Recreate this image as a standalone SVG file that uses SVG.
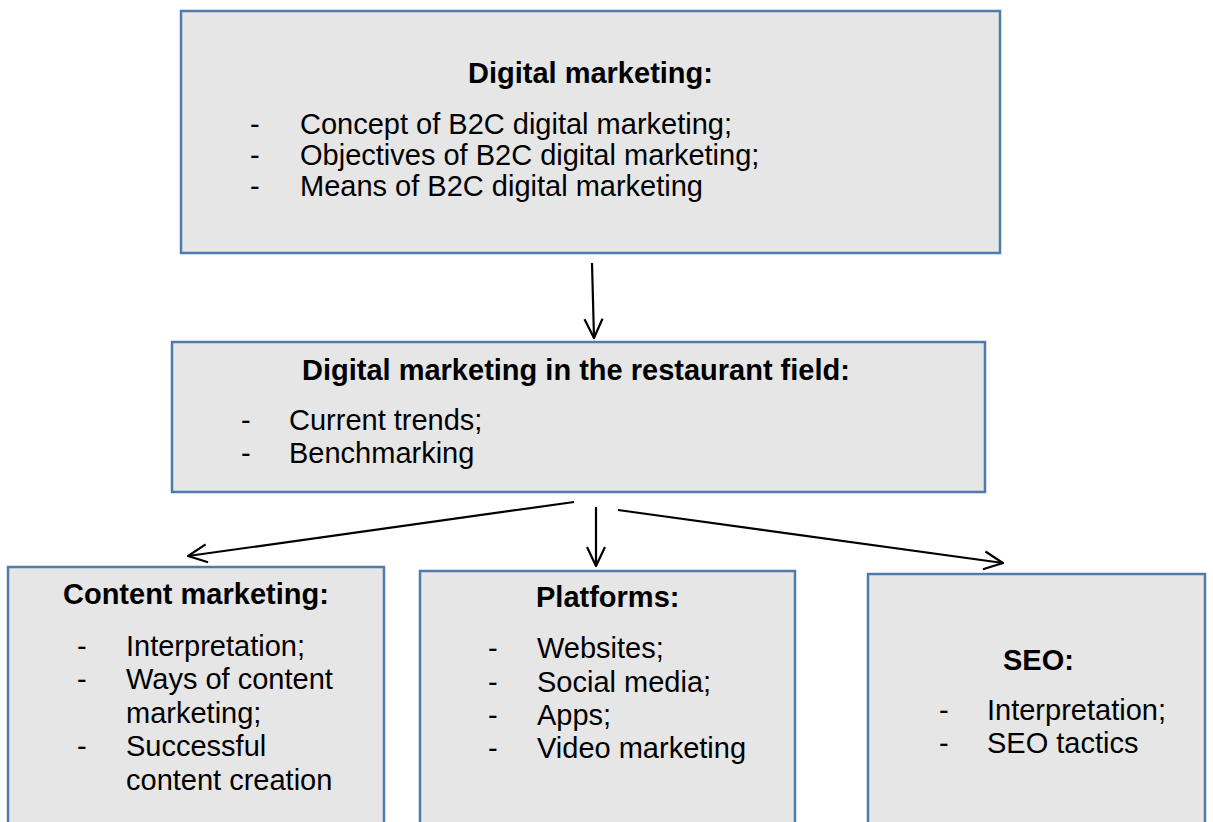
<svg xmlns="http://www.w3.org/2000/svg" width="1213" height="822" viewBox="0 0 1213 822">
<style>
.box{fill:#e6e6e6;stroke:#4f7bac;stroke-width:2.5}
.t{font-family:"Liberation Sans",Arial,sans-serif;font-size:29px;fill:#000}
.b{font-weight:bold}
.c{stroke:#000;stroke-width:2.2;fill:none}
</style>
<defs>
<marker id="ah" viewBox="0 0 22 22" refX="21" refY="11" markerWidth="22" markerHeight="22" markerUnits="userSpaceOnUse" orient="auto">
<path d="M2,2 L21,11 L2,20" fill="none" stroke="#000" stroke-width="2.2"/>
</marker>
</defs>
<rect width="1213" height="822" fill="#fff"/>
<g id="n-digital">
<rect class="box" x="181" y="11" width="819" height="242"/>
<text class="t b" x="468" y="83">Digital marketing:</text>
<text class="t" x="250" y="134">-</text><text class="t" x="300" y="134">Concept of B2C digital marketing;</text>
<text class="t" x="250" y="165">-</text><text class="t" x="300" y="165">Objectives of B2C digital marketing;</text>
<text class="t" x="250" y="196">-</text><text class="t" x="300" y="196">Means of B2C digital marketing</text>
</g>
<g id="n-restaurant">
<rect class="box" x="172" y="342" width="813" height="150"/>
<text class="t b" x="302" y="380">Digital marketing in the restaurant field:</text>
<text class="t" x="241" y="430">-</text><text class="t" x="289" y="430">Current trends;</text>
<text class="t" x="241" y="463">-</text><text class="t" x="289" y="463">Benchmarking</text>
</g>
<g id="n-content">
<rect class="box" x="8" y="567" width="376" height="280"/>
<text class="t b" x="63" y="604">Content marketing:</text>
<text class="t" x="77" y="656">-</text><text class="t" x="126" y="656">Interpretation;</text>
<text class="t" x="77" y="689">-</text><text class="t" x="126" y="689">Ways of content</text>
<text class="t" x="126" y="723">marketing;</text>
<text class="t" x="77" y="756">-</text><text class="t" x="126" y="756">Successful</text>
<text class="t" x="126" y="790">content creation</text>
</g>
<g id="n-platforms">
<rect class="box" x="420" y="571" width="375" height="280"/>
<text class="t b" x="536" y="607">Platforms:</text>
<text class="t" x="488" y="658">-</text><text class="t" x="537" y="658">Websites;</text>
<text class="t" x="488" y="692">-</text><text class="t" x="537" y="692">Social media;</text>
<text class="t" x="488" y="725">-</text><text class="t" x="537" y="725">Apps;</text>
<text class="t" x="488" y="758">-</text><text class="t" x="537" y="758">Video marketing</text>
</g>
<g id="n-seo">
<rect class="box" x="868" y="574" width="337" height="280"/>
<text class="t b" x="1003" y="670">SEO:</text>
<text class="t" x="939" y="720">-</text><text class="t" x="987" y="720">Interpretation;</text>
<text class="t" x="939" y="753">-</text><text class="t" x="987" y="753">SEO tactics</text>
</g>
<g id="connectors">
<line class="c" x1="592" y1="263" x2="594" y2="338" marker-end="url(#ah)"/>
<line class="c" x1="574" y1="502" x2="188" y2="556" marker-end="url(#ah)"/>
<line class="c" x1="596" y1="507" x2="596" y2="566" marker-end="url(#ah)"/>
<line class="c" x1="618" y1="510" x2="1003" y2="563" marker-end="url(#ah)"/>
</g>
</svg>
